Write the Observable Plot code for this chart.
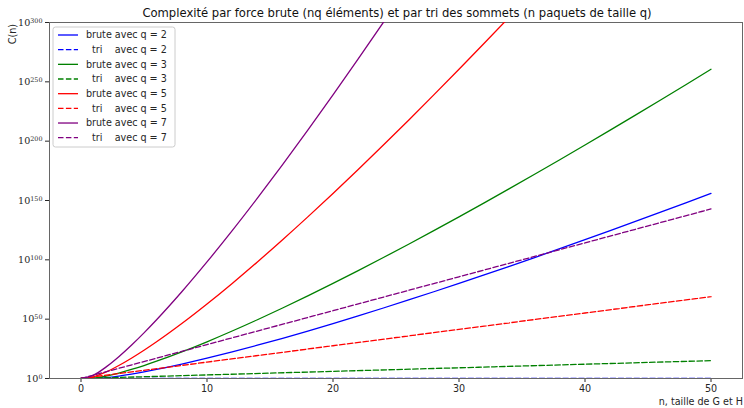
<!DOCTYPE html>
<html>
<head>
<meta charset="utf-8">
<script src="https://cdn.jsdelivr.net/npm/d3@7"></script>
<script src="https://cdn.jsdelivr.net/npm/@observablehq/plot@0.6"></script>
<style>
  html, body { margin: 0; padding: 0; background: white; }
</style>
</head>
<body>
<div id="chart"></div>
<script>
// x positions (n) for the "brute" curves
const nBrute = [0,1,2,3,4,5,6,8,10,12,14,16,18,20,22,24,26,28,30,32,34,36,38,40,42,44,46,48,50];
// log10 C(n)
const bruteQ2 = [0,0,0.778,2.079,3.702,5.560,7.601,12.117,17.085,22.412,28.037,33.915,40.014,46.310,52.781,59.413,66.191,73.104,80.142,87.297,94.562,101.929,109.394,116.951,124.596,132.324,140.131,148.014,155.970];
const bruteQ3 = [0,0.301,2.079,4.606,7.601,10.940,14.551,22.412,30.947,40.014,49.524,59.413,69.631,80.142,90.916,101.929,113.161,124.596,136.218,148.014,159.974,172.088,184.348,196.746,209.275,221.928,234.701,247.586,260.581];
const bruteQ5 = [0,1.380,5.560,10.940,17.085,23.793,30.947,46.310,62.784,80.142,98.233,116.951,136.218,155.970,176.159,196.746,217.697,238.984,260.581,282.470,304.631];
const bruteQ7 = [0,2.857,9.794,18.386,28.037,38.470,49.524,73.104,98.233,124.596,151.983,180.246,209.275,238.984,269.303,300.177,331.560];
// x positions (n) for the "tri" lines
const nTri = [0,10,20,30,40,50];
const triQ2 = [0,0,0,0,0,0];
const triQ3 = [0,3.010,6.021,9.031,12.041,15.051];
const triQ5 = [0,13.802,27.604,41.406,55.208,69.011];
const triQ7 = [0,28.573,57.147,85.720,114.293,142.867];

const xTicks = [0,10,20,30,40,50];
const yTicks = [0,50,100,150,200,250,300];
const seriesLabels = ["brute avec q = 2","  tri    avec q = 2","brute avec q = 3","  tri    avec q = 3","brute avec q = 5","  tri    avec q = 5","brute avec q = 7","  tri    avec q = 7"];
const titleText = "Complexité par force brute (nq éléments) et par tri des sommets (n paquets de taille q)";
const yLabel = "C(n)";
const xLabel = "n, taille de G et H";

const colors = ["#0000ff","#0000ff","#008000","#008000","#ff0000","#ff0000","#800080","#800080"];
const DASH = "5.5,2.4";
const series = [
  {xs: nBrute, ys: bruteQ2, dash: null},
  {xs: nTri,   ys: triQ2,   dash: DASH},
  {xs: nBrute, ys: bruteQ3, dash: null},
  {xs: nTri,   ys: triQ3,   dash: DASH},
  {xs: nBrute, ys: bruteQ5, dash: null},
  {xs: nTri,   ys: triQ5,   dash: DASH},
  {xs: nBrute, ys: bruteQ7, dash: null},
  {xs: nTri,   ys: triQ7,   dash: DASH}
].map((s, i) => ({...s, color: colors[i], label: seriesLabels[i],
  rows: s.ys.map((v, j) => ({n: s.xs[j], v}))}));

const chart = Plot.plot({
  width: 744,
  height: 408,
  marginTop: 22,
  marginBottom: 30,
  marginLeft: 49,
  marginRight: 2,
  style: {fontFamily: "DejaVu Sans", fontSize: "9.6px", color: "#262626", background: "white"},
  x: {domain: [-2.5, 52.5], ticks: xTicks, tickSize: 4, tickPadding: 3, label: null},
  y: {domain: [0, 300], ticks: yTicks, tickSize: 4, tickPadding: 3, label: null, tickFormat: d => `10^${d}`},
  marks: [
    Plot.frame({stroke: "#666", strokeWidth: 1}),
    ...series.map(s => Plot.line(s.rows, {
      x: "n", y: "v", stroke: s.color, strokeWidth: 1.3,
      strokeDasharray: s.dash || undefined, curve: "monotone-x", clip: true
    }))
  ]
});

const svg = d3.select(chart);
// superscript exponents on the y tick labels
svg.selectAll('[aria-label="y-axis tick label"] text').each(function() {
  const [base, exp] = this.textContent.split("^");
  const t = d3.select(this);
  t.text(base).attr("font-family", "DejaVu Serif").attr("font-size", "9.6px");
  t.append("tspan").attr("dy", "-0.45em").attr("font-size", "6.4px").text(exp);
});

svg.append("text")
  .attr("x", 397).attr("y", 17)
  .attr("text-anchor", "middle")
  .attr("font-size", "11.6px").attr("fill", "#111")
  .text(titleText);

svg.append("text")
  .attr("transform", "translate(16,24) rotate(-90)")
  .attr("text-anchor", "end")
  .attr("font-size", "9.6px").attr("fill", "#262626")
  .text(yLabel);

svg.append("text")
  .attr("x", 743).attr("y", 405)
  .attr("text-anchor", "end")
  .attr("font-size", "9.6px").attr("fill", "#262626")
  .text(xLabel);

// legend
const lg = svg.append("g").attr("transform", "translate(53,27)");
lg.append("rect").attr("x", 0).attr("y", 0).attr("width", 122).attr("height", 120)
  .attr("rx", 2.5).attr("fill", "white").attr("fill-opacity", 0.8)
  .attr("stroke", "#cccccc").attr("stroke-width", 1);
series.forEach((s, i) => {
  const yy = 8 + i * 14.67;
  lg.append("line").attr("x1", 5).attr("x2", 25).attr("y1", yy).attr("y2", yy)
    .attr("stroke", s.color).attr("stroke-width", 1.3)
    .attr("stroke-dasharray", s.dash || null);
  lg.append("text").attr("x", 33).attr("y", yy).attr("dy", "0.35em")
    .attr("text-anchor", "start")
    .attr("font-size", "9.6px").attr("fill", "#262626")
    .style("white-space", "pre").attr("xml:space", "preserve")
    .text(s.label);
});

document.getElementById("chart").appendChild(chart);
</script>
</body>
</html>
